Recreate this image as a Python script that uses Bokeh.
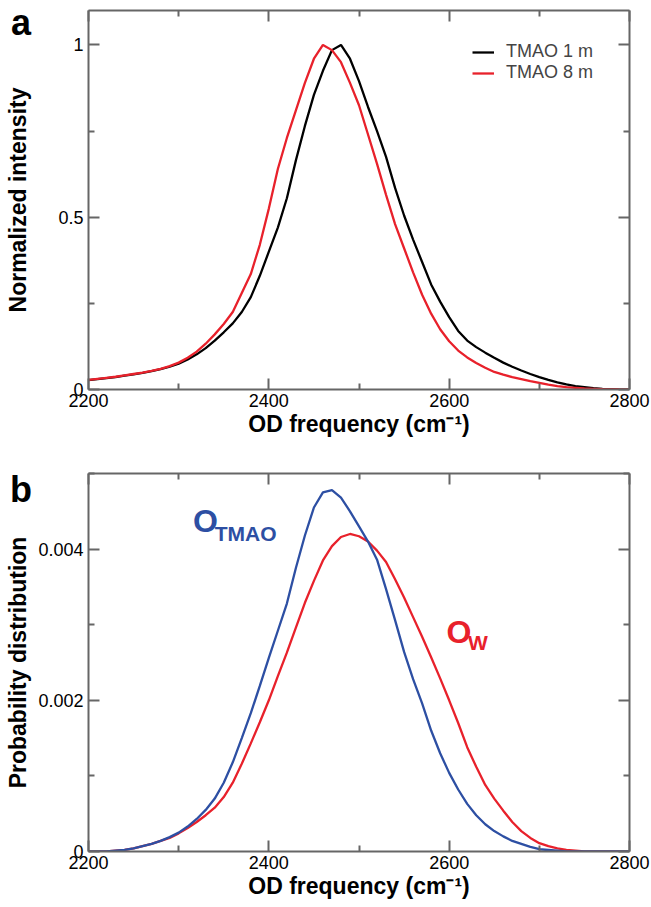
from bokeh.plotting import figure
from bokeh.models import Range1d, FixedTicker, LinearAxis, Label, Legend, LegendItem
from bokeh.layouts import column
from bokeh.embed import file_html
from bokeh.resources import INLINE

FONT = "Liberation Sans"

# ---------------- data ----------------
freq = [2200, 2210, 2220, 2230, 2240, 2250, 2260, 2270, 2280, 2290,
        2300, 2310, 2320, 2330, 2340, 2350, 2360, 2370, 2380, 2390,
        2400, 2410, 2420, 2430, 2440, 2450, 2460, 2470, 2480, 2490,
        2500, 2510, 2520, 2530, 2540, 2550, 2560, 2570, 2580, 2590,
        2600, 2610, 2620, 2630, 2640, 2650, 2660, 2670, 2680, 2690,
        2700, 2710, 2720, 2730, 2740, 2750, 2760, 2770, 2780, 2790, 2800]

# panel a: normalized IR intensity
tmao_1m = [0.027, 0.030, 0.033, 0.036, 0.040, 0.044, 0.048, 0.053, 0.059, 0.066,
           0.075, 0.087, 0.102, 0.120, 0.142, 0.166, 0.192, 0.225, 0.268, 0.330,
           0.400, 0.470, 0.555, 0.665, 0.765, 0.855, 0.925, 0.985, 1.000, 0.960,
           0.895, 0.820, 0.750, 0.675, 0.585, 0.505, 0.435, 0.370, 0.305, 0.255,
           0.210, 0.170, 0.142, 0.123, 0.107, 0.092, 0.078, 0.066, 0.055, 0.045,
           0.036, 0.028, 0.021, 0.015, 0.010, 0.007, 0.004, 0.002, 0.001, 0.0, 0.0]
tmao_8m = [0.028, 0.031, 0.034, 0.037, 0.041, 0.045, 0.049, 0.054, 0.060, 0.068,
           0.078, 0.092, 0.110, 0.133, 0.160, 0.190, 0.225, 0.280, 0.335, 0.420,
           0.525, 0.640, 0.730, 0.810, 0.890, 0.960, 1.000, 0.985, 0.950, 0.890,
           0.825, 0.740, 0.655, 0.565, 0.480, 0.410, 0.340, 0.275, 0.220, 0.175,
           0.140, 0.113, 0.093, 0.077, 0.063, 0.051, 0.043, 0.036, 0.030, 0.024,
           0.019, 0.014, 0.010, 0.007, 0.005, 0.003, 0.002, 0.001, 0.0005, 0.0, 0.0]

# panel b: probability distributions
o_tmao = [0.0, 0.0, 0.0, 0.00001, 0.00002, 0.00004, 0.00007, 0.00010, 0.00014, 0.00019,
          0.00025, 0.00033, 0.00043, 0.00055, 0.00070, 0.00091, 0.00118, 0.00150, 0.00183, 0.00219,
          0.00256, 0.00292, 0.00328, 0.00375, 0.00418, 0.00455, 0.00475, 0.00478, 0.00468, 0.00450,
          0.00430, 0.00410, 0.00386, 0.00347, 0.00306, 0.00264, 0.00228, 0.00196, 0.00160, 0.00130,
          0.00104, 0.00082, 0.00063, 0.00048, 0.00036, 0.00027, 0.00020, 0.00014, 0.00010, 0.00006,
          0.00003, 0.00002, 0.00001, 0.0, 0.0, 0.0, 0.0, 0.0, 0.0, 0.0, 0.0]
o_w = [0.0, 0.0, 0.0, 0.00001, 0.00002, 0.00004, 0.00007, 0.00010, 0.00014, 0.00018,
       0.00024, 0.00031, 0.00039, 0.00048, 0.00058, 0.00072, 0.00091, 0.00116, 0.00143, 0.00171,
       0.00200, 0.00232, 0.00263, 0.00296, 0.00329, 0.00358, 0.00385, 0.00404, 0.00416, 0.00420,
       0.00417, 0.00410, 0.00398, 0.00383, 0.00360, 0.00336, 0.00310, 0.00284, 0.00257, 0.00229,
       0.00200, 0.00170, 0.00138, 0.00112, 0.00088, 0.00070, 0.00054, 0.00039, 0.00027, 0.00018,
       0.00011, 0.00007, 0.00004, 0.00002, 0.00001, 0.0, 0.0, 0.0, 0.0, 0.0, 0.0]

x_ticks = [2200, 2400, 2600, 2800]
x_minor = [2300, 2500, 2700]
a_ticks = [0, 0.5, 1]
a_minor = [0.25, 0.75]
a_labels = {0: "0", 0.5: "0.5", 1: "1"}
b_ticks = [0, 0.002, 0.004]
b_minor = [0.001, 0.003, 0.005]
b_labels = {0: "0", 0.002: "0.002", 0.004: "0.004"}

AX = "#666666"
RED = "#e8212b"
BLUE = "#2d4fa3"


def make_fig(height, top, bottom, ymax, yt, ym, ylab, ylabel, ylab_standoff):
    p = figure(width=651, height=height, output_backend="svg", toolbar_location=None,
               x_range=Range1d(2200, 2800), y_range=Range1d(0, ymax),
               min_border_left=88, min_border_right=22,
               min_border_top=top, min_border_bottom=bottom)
    p.outline_line_color = None
    p.xgrid.visible = False
    p.ygrid.visible = False
    p.background_fill_color = "white"
    p.border_fill_color = "white"
    xt = FixedTicker(ticks=x_ticks, minor_ticks=x_minor)
    ytk = FixedTicker(ticks=yt, minor_ticks=ym)

    bottom_ax = p.below[0]
    left_ax = p.left[0]
    top_ax = LinearAxis(ticker=xt)
    right_ax = LinearAxis(ticker=ytk)
    p.add_layout(top_ax, "above")
    p.add_layout(right_ax, "right")

    for ax in [bottom_ax, left_ax, top_ax, right_ax]:
        ax.axis_line_color = AX
        ax.axis_line_width = 2
        ax.major_tick_line_color = AX
        ax.major_tick_line_width = 2
        ax.minor_tick_line_color = AX
        ax.minor_tick_line_width = 2
        ax.major_tick_in = 11
        ax.major_tick_out = 0
        ax.minor_tick_in = 6
        ax.minor_tick_out = 0
        ax.major_label_text_font = FONT
        ax.major_label_text_font_size = "18px"
        ax.major_label_text_color = "black"
        ax.axis_label_text_font = FONT
        ax.axis_label_text_font_size = "23px"
        ax.axis_label_text_font_style = "bold"
        ax.axis_label_text_color = "black"
    for ax in [top_ax, right_ax]:
        ax.major_label_text_font_size = "1px"
        ax.major_label_text_color = None
        ax.major_label_standoff = 0

    bottom_ax.ticker = xt
    left_ax.ticker = ytk
    left_ax.major_label_overrides = ylab
    bottom_ax.major_label_standoff = 4
    left_ax.major_label_standoff = 5
    bottom_ax.axis_label = "OD frequency (cm\u207b\u00b9)"
    bottom_ax.axis_label_standoff = 1
    left_ax.axis_label = ylabel
    left_ax.axis_label_standoff = ylab_standoff
    return p


# ---------------- panel a ----------------
pa = make_fig(446, 10, 57, 1.1, a_ticks, a_minor, a_labels, "Normalized intensity", 24)
r1 = pa.line(freq, tmao_1m, line_color="black", line_width=2.3)
r8 = pa.line(freq, tmao_8m, line_color=RED, line_width=2.3)
leg = Legend(items=[LegendItem(label="TMAO 1 m", renderers=[r1]),
                    LegendItem(label="TMAO 8 m", renderers=[r8])],
             location=(384, 306), padding=0, margin=0, spacing=0,
             border_line_color=None, background_fill_alpha=0,
             label_text_font=FONT, label_text_font_size="18px",
             label_text_line_height=1.0,
             label_height=18, glyph_height=18, glyph_width=22, label_standoff=12)
pa.add_layout(leg)

# ---------------- panel b ----------------
pb = make_fig(461, 27, 56, 0.005, b_ticks, b_minor, b_labels, "Probability distribution", 4)
pb.line(freq, o_w, line_color=RED, line_width=2.3)
pb.line(freq, o_tmao, line_color=BLUE, line_width=2.3)
pb.add_layout(Label(x=2316, y=0.00437, text="O", text_font=FONT, text_font_size="32px",
                    text_font_style="bold", text_color=BLUE, text_baseline="alphabetic"))
pb.add_layout(Label(x=2340, y=0.00420, text="TMAO", text_font=FONT, text_font_size="21px",
                    text_font_style="bold", text_color=BLUE, text_baseline="alphabetic"))
pb.add_layout(Label(x=2597, y=0.00290, text="O", text_font=FONT, text_font_size="32px",
                    text_font_style="bold", text_color=RED, text_baseline="alphabetic"))
pb.add_layout(Label(x=2621, y=0.00276, text="W", text_font=FONT, text_font_size="21px",
                    text_font_style="bold", text_color=RED, text_baseline="alphabetic"))

# panel letters sit outside the plot frames (frame annotations are clipped),
# so they are added as page text next to the figures
TEMPLATE = """
{% block inner_body %}
{{ super() }}
<div style="position:absolute; left:11px; top:5px; font-family:'Liberation Sans'; font-weight:bold; font-size:36px; line-height:36px; color:#000; z-index:10;">a</div>
<div style="position:absolute; left:10px; top:472px; font-family:'Liberation Sans'; font-weight:bold; font-size:36px; line-height:36px; color:#000; z-index:10;">b</div>
{% endblock %}
"""

layout = column(pa, pb, spacing=0)
open("out.html", "w").write(file_html(layout, INLINE, template=TEMPLATE))
